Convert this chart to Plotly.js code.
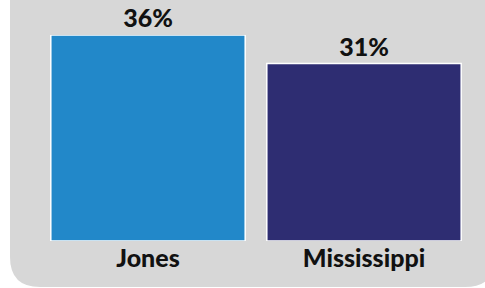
<!DOCTYPE html>
<html><head><meta charset="utf-8">
<script src="https://cdn.plot.ly/plotly-3.0.1.min.js"></script>
<style>html,body{margin:0;padding:0;background:#fff;}#chart{width:485px;height:288px;}</style>
</head><body><div id="chart"></div>
<script>
const categories = ["Jones", "Mississippi"];
const values = [36, 31];
const barColors = ["#2288c9", "#2e2d72"];

const W = 485, H = 288;
const M = {l: 40, r: 13, t: 35, b: 47};
const pw = W - M.l - M.r, ph = H - M.t - M.b;
function px(x) { return (x - M.l) / pw; }
function py(y) { return 1 - (y - M.t) / ph; }
// grey rounded panel (pixel geometry converted to paper coords)
const rr = 30;
const panelPath = `M ${px(10)} ${py(-40)} L ${px(10)} ${py(287 - rr)} ` +
  `Q ${px(10)} ${py(287)} ${px(10 + rr)} ${py(287)} ` +
  `L ${px(465)} ${py(287)} Q ${px(495)} ${py(287)} ${px(495)} ${py(257)} ` +
  `L ${px(495)} ${py(-40)} Z`;

const font = "Lato, 'DejaVu Sans Condensed', sans-serif";

Plotly.newPlot('chart', [{
  type: 'bar',
  x: categories,
  y: values,
  marker: {color: barColors, line: {color: '#ffffff', width: 1.5}},
  text: values.map(v => v + '%'),
  textposition: 'outside',
  textfont: {family: font, size: 25, color: '#111111', weight: 900},
  constraintext: 'none',
  cliponaxis: false,
  hoverinfo: 'none'
}], {
  width: W, height: H,
  margin: M,
  paper_bgcolor: '#ffffff',
  plot_bgcolor: 'rgba(0,0,0,0)',
  bargap: 0.1,
  showlegend: false,
  xaxis: {showgrid: false, zeroline: false, showline: false, ticks: '',
          tickfont: {family: font, size: 25, color: '#111111', weight: 900}, fixedrange: true},
  yaxis: {range: [0, 36], visible: false, showgrid: false, zeroline: false, fixedrange: true},
  shapes: [{type: 'path', xref: 'paper', yref: 'paper', path: panelPath,
            fillcolor: '#d7d7d7', line: {width: 0}, layer: 'below'}]
}, {staticPlot: true, displayModeBar: false});
</script></body></html>
